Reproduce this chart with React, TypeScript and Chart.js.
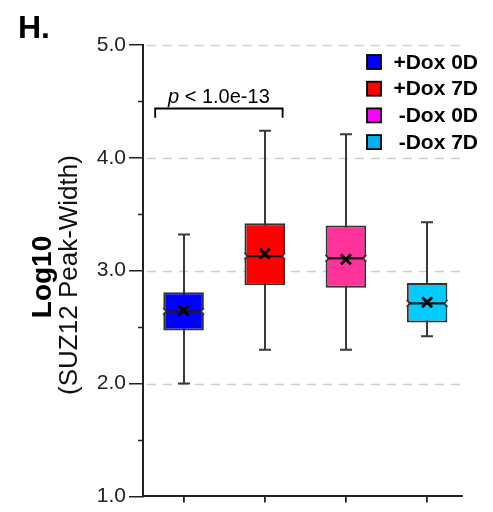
import { useEffect, useRef } from 'react';
import { Chart, registerables } from 'chart.js';

Chart.register(...registerables);

const categories = ['+Dox 0D', '+Dox 7D', '-Dox 0D', '-Dox 7D'];
const whiskerLow = [2.0, 2.3, 2.3, 2.42];
const q1 = [2.47, 2.87, 2.85, 2.54];
const medians = [2.64, 3.13, 3.11, 2.71];
const q3 = [2.81, 3.42, 3.4, 2.89];
const whiskerHigh = [3.32, 4.24, 4.21, 3.43];
const means = [2.65, 3.15, 3.1, 2.72];
const boxColors = ['#0000ff', '#ff0000', '#ff3399', '#00ccff'];
const legendColors = ['#0000ff', '#ff0000', '#ff00ff', '#00b0f0'];
const yTickValues = [1, 2, 3, 4, 5];
const yMinorTicks = [1.5, 2.5, 3.5, 4.5];
const pLabelItalic = 'p';
const pLabelRest = ' < 1.0e-13';
const bracketFrom = -0.35;
const bracketTo = 1.22;
const bracketY = 4.44;
const bracketTipY = 4.355;
const panelLabel = 'H.';
const yTitleBold = 'Log10';
const yTitleSub = '(SUZ12 Peak-Width)';

const FONT = '"Liberation Sans", Arial, Helvetica, sans-serif';

export default function App() {
  const ref = useRef<HTMLCanvasElement>(null);

  useEffect(() => {
    document.body.style.margin = '0';
    const canvas = ref.current;
    if (!canvas) return;

    const boxPlugin = {
      id: 'boxExtras',
      beforeDatasetsDraw(chart: any) {
        const { ctx, chartArea, scales } = chart;
        const x = scales.x;
        const y = scales.y;
        ctx.save();
        // dashed grid lines
        ctx.strokeStyle = '#d0d0d0';
        ctx.lineWidth = 1.5;
        ctx.setLineDash([9, 7]);
        for (const t of yTickValues) {
          if (t === 1) continue;
          const py = Math.round(y.getPixelForValue(t)) + 0.5;
          ctx.beginPath();
          ctx.moveTo(chartArea.left + 4, py);
          ctx.lineTo(chartArea.right, py);
          ctx.stroke();
        }
        ctx.setLineDash([]);
        // minor ticks
        ctx.strokeStyle = '#222';
        ctx.lineWidth = 1.5;
        for (const m of yMinorTicks) {
          const py = Math.round(y.getPixelForValue(m)) + 0.5;
          ctx.beginPath();
          ctx.moveTo(chartArea.left - 5, py);
          ctx.lineTo(chartArea.left, py);
          ctx.stroke();
        }
        // whiskers
        ctx.strokeStyle = '#3a3a3a';
        ctx.lineWidth = 2;
        categories.forEach((_, i) => {
          const px = Math.round(x.getPixelForValue(i));
          const yLo = y.getPixelForValue(whiskerLow[i]);
          const yHi = y.getPixelForValue(whiskerHigh[i]);
          ctx.beginPath();
          ctx.moveTo(px, yLo);
          ctx.lineTo(px, yHi);
          ctx.moveTo(px - 6, yLo);
          ctx.lineTo(px + 6, yLo);
          ctx.moveTo(px - 6, yHi);
          ctx.lineTo(px + 6, yHi);
          ctx.stroke();
        });
        ctx.restore();
      },
      afterDatasetDraw(chart: any, args: any) {
        if (args.index !== 0) return;
        const { ctx, scales } = chart;
        const y = scales.y;
        const meta = chart.getDatasetMeta(0);
        const nd = 3;
        const nh = 3.5;
        ctx.save();
        meta.data.forEach((bar: any, i: number) => {
          const { x: cx, width } = bar.getProps(['x', 'width'], true);
          const left = cx - width / 2;
          const right = cx + width / 2;
          const my = y.getPixelForValue(medians[i]);
          ctx.fillStyle = '#ffffff';
          ctx.beginPath();
          ctx.moveTo(left - 1.5, my - nh - 1);
          ctx.lineTo(left + nd, my);
          ctx.lineTo(left - 1.5, my + nh + 1);
          ctx.closePath();
          ctx.fill();
          ctx.beginPath();
          ctx.moveTo(right + 1.5, my - nh - 1);
          ctx.lineTo(right - nd, my);
          ctx.lineTo(right + 1.5, my + nh + 1);
          ctx.closePath();
          ctx.fill();
          ctx.strokeStyle = '#333';
          ctx.lineWidth = 2;
          ctx.beginPath();
          ctx.moveTo(left, my - nh);
          ctx.lineTo(left + nd, my);
          ctx.lineTo(left, my + nh);
          ctx.moveTo(right, my - nh);
          ctx.lineTo(right - nd, my);
          ctx.lineTo(right, my + nh);
          ctx.stroke();
          ctx.strokeStyle = '#1a1a1a';
          ctx.lineWidth = 2.2;
          ctx.beginPath();
          ctx.moveTo(left + nd, my);
          ctx.lineTo(right - nd, my);
          ctx.stroke();
        });
        ctx.restore();
      },
      afterDraw(chart: any) {
        const { ctx, scales } = chart;
        const x = scales.x;
        const y = scales.y;
        ctx.save();
        // panel label
        ctx.fillStyle = '#000';
        ctx.font = `bold 32px ${FONT}`;
        ctx.textAlign = 'left';
        ctx.textBaseline = 'alphabetic';
        ctx.fillText(panelLabel, 18, 38);

        // y title
        ctx.save();
        ctx.translate(43, 277);
        ctx.rotate(-Math.PI / 2);
        ctx.font = `bold 28px ${FONT}`;
        ctx.textAlign = 'center';
        ctx.textBaseline = 'middle';
        ctx.fillText(yTitleBold, 0, 0);
        ctx.restore();
        ctx.save();
        ctx.translate(70, 275);
        ctx.rotate(-Math.PI / 2);
        ctx.font = `26px ${FONT}`;
        ctx.textAlign = 'center';
        ctx.textBaseline = 'middle';
        ctx.fillStyle = '#111';
        ctx.fillText(yTitleSub, 0, 0);
        ctx.restore();

        // bracket
        const bx1 = x.getPixelForValue(bracketFrom);
        const bx2 = x.getPixelForValue(bracketTo);
        const by = Math.round(y.getPixelForValue(bracketY)) + 0.5;
        const bt = y.getPixelForValue(bracketTipY);
        ctx.strokeStyle = '#000';
        ctx.lineWidth = 1.8;
        ctx.beginPath();
        ctx.moveTo(bx1, bt);
        ctx.lineTo(bx1, by);
        ctx.lineTo(bx2, by);
        ctx.lineTo(bx2, bt);
        ctx.stroke();
        // p text
        ctx.font = `italic 20px ${FONT}`;
        const w1 = ctx.measureText(pLabelItalic).width;
        ctx.font = `20px ${FONT}`;
        const w2 = ctx.measureText(pLabelRest).width;
        const start = (bx1 + bx2) / 2 - (w1 + w2) / 2;
        ctx.textAlign = 'left';
        ctx.textBaseline = 'alphabetic';
        ctx.fillStyle = '#000';
        ctx.font = `italic 20px ${FONT}`;
        ctx.fillText(pLabelItalic, start, by - 6);
        ctx.font = `20px ${FONT}`;
        ctx.fillText(pLabelRest, start + w1, by - 6);

        // legend
        ctx.font = `bold 21px ${FONT}`;
        ctx.textAlign = 'right';
        ctx.textBaseline = 'middle';
        categories.forEach((c, i) => {
          const cy = 62 + i * 26.7;
          ctx.fillStyle = legendColors[i];
          ctx.fillRect(367, cy - 7, 14, 14);
          ctx.strokeStyle = '#000';
          ctx.lineWidth = 1.8;
          ctx.strokeRect(367, cy - 7, 14, 14);
          ctx.fillStyle = '#000';
          ctx.fillText(c, 478, cy + 1);
        });
        ctx.restore();
      },
    };

    const chart = new Chart(canvas, {
      type: 'bar',
      data: {
        datasets: [
          {
            type: 'bar',
            label: 'box',
            data: categories.map((_, i) => ({ x: i, y: [q1[i], q3[i]] })) as any,
            backgroundColor: boxColors,
            borderColor: '#333',
            borderWidth: 2,
            borderSkipped: false,
            barPercentage: 0.5,
            categoryPercentage: 1,
            order: 2,
          },
          {
            type: 'scatter',
            label: 'mean',
            data: categories.map((_, i) => ({ x: i, y: means[i] })),
            pointStyle: 'crossRot',
            pointRadius: 7,
            borderColor: '#000',
            backgroundColor: '#000',
            borderWidth: 2.8,
            order: 1,
          } as any,
        ],
      },
      options: {
        animation: false,
        responsive: true,
        maintainAspectRatio: false,
        layout: { padding: { top: 45, right: 31, bottom: 9, left: 0 } },
        plugins: {
          legend: { display: false },
          tooltip: { enabled: false },
          title: { display: false },
        },
        scales: {
          x: {
            type: 'linear',
            min: -0.5,
            max: 3.43,
            offset: false,
            ticks: { stepSize: 1, includeBounds: false, display: false },
            grid: {
              offset: false,
              drawOnChartArea: false,
              drawTicks: true,
              tickLength: 6,
              color: '#222',
              lineWidth: 1.8,
            },
            border: { color: '#222', width: 2 },
            afterFit: (s: any) => {
              s.height = 6;
            },
          },
          y: {
            type: 'linear',
            min: 1,
            max: 5,
            ticks: {
              stepSize: 1,
              padding: 3,
              color: '#222',
              font: { size: 21, family: FONT },
              callback: (v: any) => Number(v).toFixed(1),
            },
            grid: {
              drawOnChartArea: false,
              drawTicks: true,
              tickLength: 14,
              color: '#222',
              lineWidth: 1.5,
            },
            border: { color: '#222', width: 2 },
            afterFit: (s: any) => {
              s.width = 143;
            },
          },
        },
      } as any,
      plugins: [boxPlugin],
    });

    return () => chart.destroy();
  }, []);

  return (
    <div style={{ width: 493, height: 512, position: 'relative' }}>
      <canvas ref={ref} />
    </div>
  );
}
